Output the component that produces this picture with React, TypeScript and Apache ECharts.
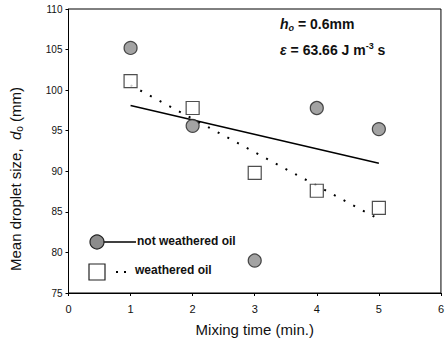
import React, { useEffect, useRef } from "react";
import * as echarts from "echarts";

const mixingTime = [1, 2, 3, 4, 5];
const notWeathered = [105.2, 95.6, 79.0, 97.8, 95.2];
const weathered = [101.1, 97.8, 89.8, 87.6, 85.5];
const trendX = [1, 5];
const trendNotWeathered = [98.1, 91.0];
const trendWeathered = [100.6, 84.1];
const yTickLabels: Record<number, string> = { 75: "75", 80: "80", 85: "85", 90: "90", 95: "95", 100: "100", 105: "105", 110: "110" };

export default function App() {
  const ref = useRef<HTMLDivElement>(null);
  useEffect(() => {
    if (!ref.current) return;
    const chart = echarts.init(ref.current, null, { renderer: "svg" });
    const font = "Arial, 'Liberation Sans', sans-serif";
    chart.setOption({
      animation: false,
      backgroundColor: "#fff",
      grid: { left: 67, right: 2, top: 9, bottom: 56, show: true, borderColor: "#000", borderWidth: 1 },
      xAxis: {
        type: "value",
        min: 0,
        max: 6,
        interval: 1,
        name: "Mixing time (min.)",
        nameLocation: "middle",
        nameGap: 29,
        nameTextStyle: { fontFamily: font, fontSize: 15, color: "#111" },
        axisLine: { show: true, onZero: false, lineStyle: { color: "#000", width: 1 } },
        axisTick: { show: true, length: 3, lineStyle: { color: "#000" } },
        axisLabel: { fontFamily: font, fontSize: 11, color: "#111", margin: 10 },
        splitLine: { show: false },
      },
      yAxis: {
        type: "value",
        min: 75,
        max: 110,
        interval: 5,
        name: "{a|Mean droplet size,  }{i|d}{s|o}{a| (mm)}",
        nameLocation: "middle",
        nameGap: 44,
        nameTextStyle: {
          padding: [0, 56, 0, 0],
          rich: {
            a: { fontFamily: font, fontSize: 15, color: "#111" },
            i: { fontFamily: font, fontSize: 15, fontStyle: "italic", color: "#111" },
            s: { fontFamily: font, fontSize: 10, color: "#111", padding: [8, 0, 0, 0] },
          },
        },
        axisLine: { show: true, lineStyle: { color: "#000", width: 1 } },
        axisTick: { show: true, length: 3, lineStyle: { color: "#000" } },
        axisLabel: {
          fontFamily: font,
          fontSize: 10,
          color: "#111",
          margin: 6,
          formatter: (v: number) => yTickLabels[v] ?? String(v),
        },
        splitLine: { show: false },
      },
      series: [
        {
          type: "line",
          data: trendX.map((x, i) => [x, trendNotWeathered[i]]),
          symbol: "none",
          lineStyle: { color: "#000", width: 1.5, type: "solid" },
          z: 1,
        },
        {
          type: "line",
          data: trendX.map((x, i) => [x, trendWeathered[i]]),
          symbol: "none",
          lineStyle: { color: "#000", width: 2, type: [2, 9] },
          z: 1,
        },
        {
          type: "scatter",
          data: mixingTime.map((x, i) => [x, notWeathered[i]]),
          symbol: "circle",
          symbolSize: 13,
          itemStyle: { color: "#8c8c8c", borderColor: "#222", borderWidth: 1.2 },
          z: 3,
        },
        {
          type: "scatter",
          data: mixingTime.map((x, i) => [x, weathered[i]]),
          symbol: "rect",
          symbolSize: 13,
          itemStyle: { color: "#fff", borderColor: "#222", borderWidth: 1.2 },
          z: 3,
        },
      ],
      graphic: [
        {
          type: "text",
          left: 280,
          top: 17,
          style: {
            text: "{hi|h}{hs|o}{b| = 0.6mm}",
            rich: {
              hi: { fontFamily: font, fontSize: 14, fontWeight: "bold", fontStyle: "italic", fill: "#111" },
              hs: { fontFamily: font, fontSize: 9, fontWeight: "bold", fontStyle: "italic", fill: "#111", padding: [7, 0, 0, 0] },
              b: { fontFamily: font, fontSize: 14, fontWeight: "bold", fill: "#111" },
            },
          },
        },
        {
          type: "text",
          left: 280,
          top: 41,
          style: {
            text: "{e|ε}{b| = 63.66 J m}{sup|-3}{b| s}",
            rich: {
              e: { fontFamily: font, fontSize: 14, fontWeight: "bold", fontStyle: "italic", fill: "#111" },
              b: { fontFamily: font, fontSize: 14, fontWeight: "bold", fill: "#111" },
              sup: { fontFamily: font, fontSize: 9, fontWeight: "bold", fill: "#111", padding: [0, 0, 8, 0] },
            },
          },
        },
        { type: "line", shape: { x1: 103, y1: 242, x2: 136, y2: 242 }, style: { stroke: "#000", lineWidth: 1.5 } },
        { type: "circle", shape: { cx: 97, cy: 242, r: 7 }, style: { fill: "#8c8c8c", stroke: "#222", lineWidth: 1.2 } },
        {
          type: "text",
          left: 137,
          top: 235,
          style: { text: "not weathered oil", fontFamily: font, fontSize: 12, fontWeight: "bold", fill: "#111" },
        },
        { type: "line", shape: { x1: 116, y1: 272, x2: 131, y2: 272 }, style: { stroke: "#000", lineWidth: 2, lineDash: [2, 6] } },
        { type: "rect", shape: { x: 89, y: 264, width: 16, height: 16 }, style: { fill: "#fff", stroke: "#222", lineWidth: 1.2 } },
        {
          type: "text",
          left: 135,
          top: 264,
          style: { text: "weathered oil", fontFamily: font, fontSize: 12, fontWeight: "bold", fill: "#111" },
        },
      ],
    });
    return () => chart.dispose();
  }, []);
  return <div ref={ref} style={{ width: 447, height: 349, position: "absolute", left: 0, top: 0 }} />;
}
